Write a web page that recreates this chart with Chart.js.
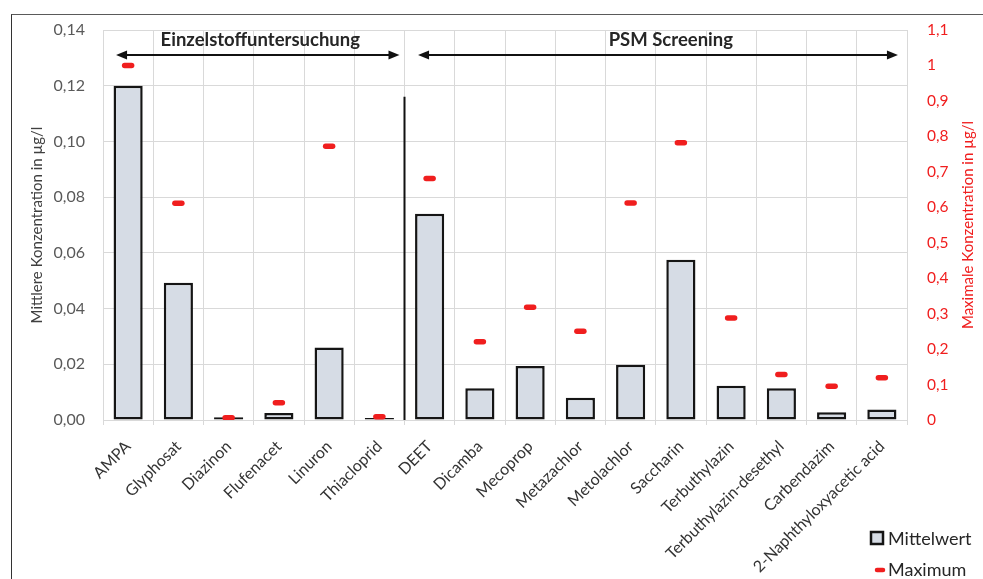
<!DOCTYPE html>
<html>
<head>
<meta charset="utf-8">
<script src="https://cdn.jsdelivr.net/npm/chart.js@4"></script>
<style>
  html, body { margin: 0; padding: 0; background: #fff; }
  #wrap { position: relative; width: 983px; height: 579px; overflow: hidden; }
  #frame { position: absolute; left: 11px; top: 14px; width: 990px; height: 600px;
           border-top: 1.5px solid #5a5a5a; border-left: 1.5px solid #333; }
  canvas { position: absolute; left: 0; top: 0; }
</style>
</head>
<body>
<div id="wrap">
  <div id="frame"></div>
  <canvas id="chart" width="983" height="579"></canvas>
</div>
<script>
const categories = [
  'AMPA', 'Glyphosat', 'Diazinon', 'Flufenacet', 'Linuron', 'Thiacloprid',
  'DEET', 'Dicamba', 'Mecoprop', 'Metazachlor', 'Metolachlor', 'Saccharin',
  'Terbuthylazin', 'Terbuthylazin-desethyl', 'Carbendazim', '2-Naphthyloxyacetic acid'
]
const meanValues = [
  0.120, 0.0493, 0.0010, 0.0025, 0.0260, 0.0007,
  0.0740, 0.0114, 0.0194, 0.0080, 0.0198, 0.0575,
  0.0123, 0.0114, 0.0028, 0.0038
]
const maxValues = [
  1.00, 0.611, 0.0065, 0.049, 0.772, 0.009,
  0.681, 0.221, 0.318, 0.250, 0.612, 0.782,
  0.288, 0.128, 0.095, 0.119
]
const leftTicks  = { min: 0, max: 0.14, step: 0.02 }
const rightTicks = { min: 0, max: 1.1, step: 0.1 }

// groups above the bars: label, start and end as category positions
const groups = [
  { label: 'Einzelstoffuntersuchung', from: -0.24, to: 5.4, textAt: 2.63 },
  { label: 'PSM Screening',           from: 5.77, to: 15.32, textAt: 10.8 },
]
const separatorAt  = 5.5
const separatorTop = 0.116

const FONT = 'Lato, "Open Sans", sans-serif'
const RED  = '#f01e1e'

const fmt2 = v => v.toFixed(2).replace('.', ',')
const fmt1 = v => String(Math.round(v * 10) / 10).replace('.', ',')

function arrowHead(ctx, x, y, dir) {
  ctx.beginPath()
  ctx.moveTo(x, y)
  ctx.lineTo(x - dir * 11, y - 4.5)
  ctx.lineTo(x - dir * 11, y + 4.5)
  ctx.closePath()
  ctx.fill()
}

const extras = {
  id: 'extras',
  beforeDatasetDraw(chart, args) {
    if (args.meta.type === 'line') chart.ctx.lineCap = 'round'
  },
  afterDatasetDraw(chart) {
    chart.ctx.lineCap = 'butt'
  },
  afterDraw(chart) {
    const { ctx, chartArea } = chart
    const x = chart.scales.x, y = chart.scales.y
    ctx.save()

    // separator between the two groups
    ctx.strokeStyle = '#111'
    ctx.lineWidth = 2
    ctx.beginPath()
    ctx.moveTo(x.getPixelForValue(separatorAt), y.getPixelForValue(separatorTop))
    ctx.lineTo(x.getPixelForValue(separatorAt), y.getPixelForValue(0))
    ctx.stroke()

    // arrows + labels
    const ay = 55
    ctx.lineWidth = 2
    groups.forEach(g => {
      const x0 = x.getPixelForValue(g.from), x1 = x.getPixelForValue(g.to)
      ctx.fillStyle = '#111'
      ctx.beginPath()
      ctx.moveTo(x0 + 6, ay)
      ctx.lineTo(x1 - 6, ay)
      ctx.stroke()
      arrowHead(ctx, x0, ay, -1)
      arrowHead(ctx, x1, ay, 1)
      ctx.font = 'bold 18.5px ' + FONT
      ctx.fillStyle = '#262626'
      ctx.textAlign = 'center'
      ctx.textBaseline = 'middle'
      ctx.fillText(g.label, x.getPixelForValue(g.textAt), 40)
    })

    // right axis title, reading bottom to top
    ctx.save()
    ctx.translate(968, (chartArea.top + chartArea.bottom) / 2)
    ctx.rotate(-Math.PI / 2)
    ctx.font = '15px ' + FONT
    ctx.fillStyle = RED
    ctx.textAlign = 'center'
    ctx.textBaseline = 'middle'
    ctx.fillText('Maximale Konzentration in µg/l', 0, 0)
    ctx.restore()

    // legend
    const [bars, marks] = chart.data.datasets
    ctx.font = '18px ' + FONT
    ctx.textAlign = 'left'
    ctx.textBaseline = 'middle'
    ctx.fillStyle = bars.backgroundColor
    ctx.fillRect(871, 532, 12, 12)
    ctx.strokeStyle = bars.borderColor
    ctx.lineWidth = 2.5
    ctx.strokeRect(871, 532, 12, 12)
    ctx.fillStyle = '#262626'
    ctx.fillText(bars.label, 888, 539)
    ctx.strokeStyle = marks.pointBorderColor
    ctx.lineWidth = 4.5
    ctx.lineCap = 'round'
    ctx.beginPath()
    ctx.moveTo(877, 570)
    ctx.lineTo(883, 570)
    ctx.stroke()
    ctx.fillText(marks.label, 888, 570)

    ctx.restore()
  }
}

new Chart(document.getElementById('chart'), {
  data: {
    labels: categories,
    datasets: [
      {
        type: 'bar',
        label: 'Mittelwert',
        data: meanValues,
        yAxisID: 'y',
        backgroundColor: '#d6dce5',
        borderColor: '#151515',
        borderWidth: 2.5,
        borderSkipped: false,
        barPercentage: 0.58,
        categoryPercentage: 1,
        order: 2,
      },
      {
        type: 'line',
        label: 'Maximum',
        data: maxValues,
        yAxisID: 'y1',
        showLine: false,
        pointStyle: 'line',
        pointRadius: 3.5,
        pointHoverRadius: 3.5,
        pointBorderWidth: 5.5,
        pointBorderColor: RED,
        borderColor: RED,
        order: 1,
      },
    ],
  },
  options: {
    responsive: false,
    animation: false,
    layout: { padding: { top: 30, left: 24, right: 0, bottom: 0 } },
    plugins: {
      legend: { display: false },
      tooltip: { enabled: false },
    },
    scales: {
      x: {
        offset: true,
        grid: { color: '#d9d9d9', offset: true, drawTicks: true, tickLength: 5 },
        border: { color: '#d9d9d9' },
        ticks: {
          autoSkip: false, minRotation: 45, maxRotation: 45, padding: 12,
          color: '#333', font: { family: FONT, size: 16 },
        },
        afterFit: s => { s.height = 159 },
      },
      y: {
        position: 'left',
        min: leftTicks.min, max: leftTicks.max,
        grid: { color: '#d9d9d9', drawTicks: false },
        border: { display: false },
        ticks: {
          stepSize: leftTicks.step, padding: 18,
          color: '#595959', font: { family: FONT, size: 16 },
          callback: v => fmt2(v),
        },
        title: {
          display: true, text: 'Mittlere Konzentration in µg/l',
          color: '#404040', font: { family: FONT, size: 15 },
        },
        afterFit: s => { s.width = 79 },
      },
      y1: {
        position: 'right',
        min: rightTicks.min, max: rightTicks.max,
        grid: { drawOnChartArea: false, drawTicks: false },
        border: { display: false },
        ticks: {
          stepSize: rightTicks.step, padding: 20,
          color: RED, font: { family: FONT, size: 15.5 },
          callback: v => fmt1(v),
        },
        afterFit: s => { s.width = 76 },
      },
    },
  },
  plugins: [extras],
})
</script>
</body>
</html>
